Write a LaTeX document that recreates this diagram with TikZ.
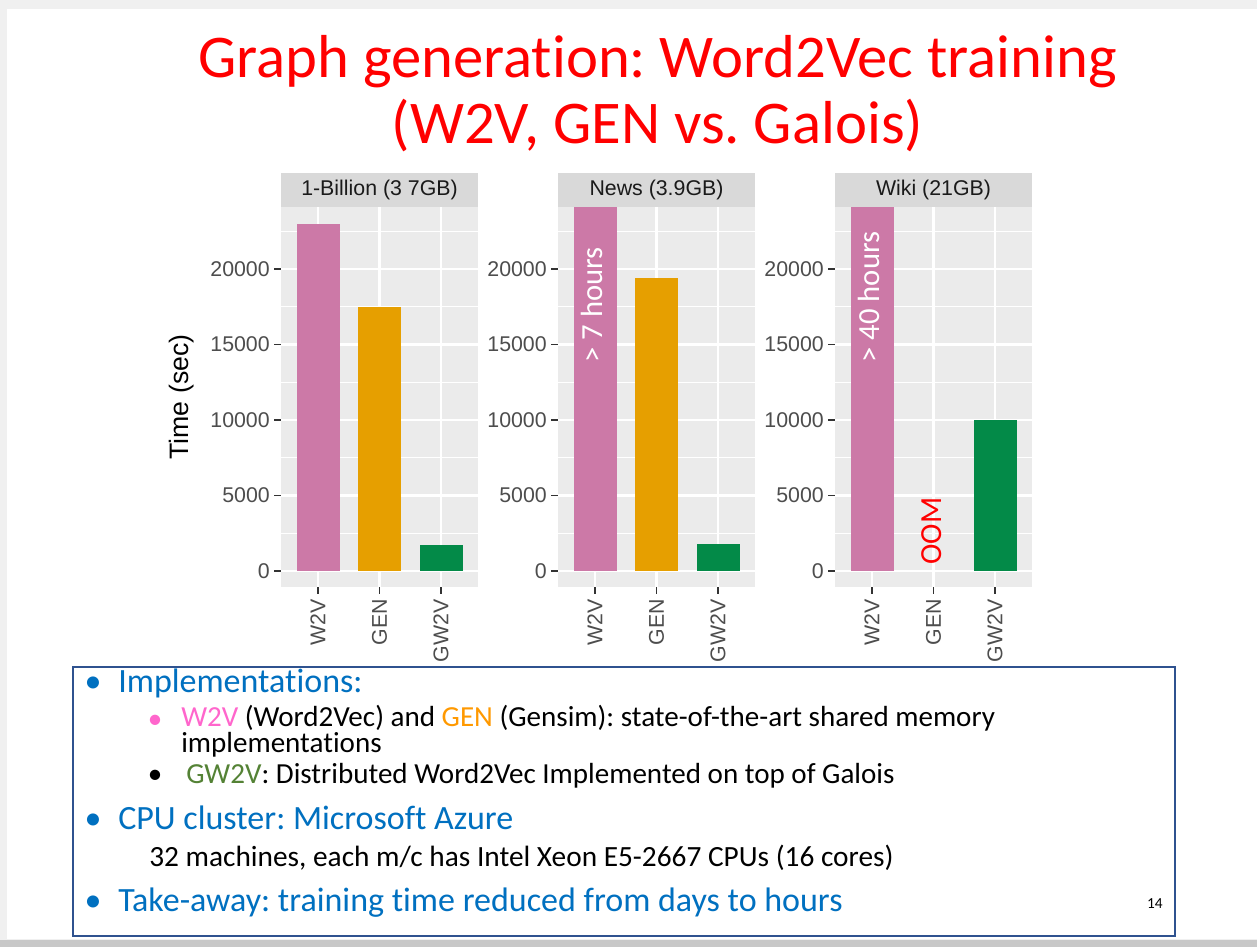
\documentclass[tikz,border=0pt]{standalone}
\usepackage{fontspec}
\setmainfont{Carlito}[Ligatures=NoCommon]
\newfontfamily\ggfont{Liberation Sans}
\frenchspacing
\definecolor{titlered}{RGB}{255,0,0}
\definecolor{panelbg}{RGB}{235,235,235}
\definecolor{stripbg}{RGB}{217,217,217}
\definecolor{w2vpink}{RGB}{204,121,167}
\definecolor{genorange}{RGB}{230,159,0}
\definecolor{gwgreen}{RGB}{3,138,72}
\definecolor{ticktext}{RGB}{77,77,77}
\definecolor{tickline}{RGB}{51,51,51}
\definecolor{striptext}{RGB}{26,26,26}
\definecolor{bulletblue}{RGB}{0,112,192}
\definecolor{boxblue}{RGB}{47,82,143}
\definecolor{txtpink}{RGB}{255,102,204}
\definecolor{txtorange}{RGB}{255,153,0}
\definecolor{txtgreen}{RGB}{84,130,53}
\definecolor{slidegray}{RGB}{240,240,240}
\definecolor{shadowgray}{RGB}{200,200,200}
\tikzset{
  minorgrid/.style={white,line width=0.9pt},
  majorgrid/.style={white,line width=1.7pt},
  tickmark/.style={tickline,line width=1.3pt},
  ylab/.style={anchor=east,text=ticktext,font=\ggfont\fontsize{16}{18}\selectfont,inner sep=0pt},
  xlab/.style={anchor=east,rotate=90,text=ticktext,font=\ggfont\fontsize{16}{18}\selectfont,inner sep=0pt},
  striplab/.style={text=striptext,font=\ggfont\fontsize{16}{18}\selectfont,inner sep=0pt},
  barnote/.style={rotate=90,font=\fontsize{23}{26}\selectfont,inner sep=0pt},
  toptext/.style={anchor=base west,text=bulletblue,font=\fontsize{25.5}{28}\selectfont,inner sep=0pt},
  subtext/.style={anchor=base west,text=black,font=\fontsize{21.8}{24}\selectfont,inner sep=0pt},
  topbullet/.style={anchor=base,text=bulletblue,font=\fontsize{25.5}{28}\selectfont,inner sep=0pt},
  subbullet/.style={anchor=base,font=\fontsize{21.8}{24}\selectfont,inner sep=0pt},
}
\begin{document}
\begin{tikzpicture}[x=0.75pt,y=-0.75pt]
\useasboundingbox (0,0) rectangle (1257,947);
% slide background
\fill[slidegray] (0,0) rectangle (1257,947);
\fill[white] (7,9) rectangle (1257,939);
\fill[shadowgray] (0,940) rectangle (1257,947);
% title
\node[anchor=base,text=titlered,font=\fontsize{45.5}{50}\selectfont,inner sep=0pt] (title1) at (657.5,77) {Graph generation: Word2Vec training};
\node[anchor=base,text=titlered,font=\fontsize{45.5}{50}\selectfont,inner sep=0pt] (title2) at (657.5,143) {(W2V, GEN vs. Galois)};
% panels
\foreach \px/\lab/\pn in {281/{1-Billion (3 7GB)}/p1, 558/{News (3.9GB)}/p2, 835/{Wiki (21GB)}/p3}{
  \fill[panelbg] (\px,207) rectangle ++(197,380);
  \fill[stripbg] (\px,173) rectangle ++(197,34);
  \node[striplab] (strip\pn) at (\px+98.5,190) {\lab};
  \foreach \v in {533.25,457.75,382.25,306.75,231.25}
    \draw[minorgrid] (\px,\v) -- ++(197,0);
  \foreach \v in {571,495.5,420,344.5,269}
    \draw[majorgrid] (\px,\v) -- ++(197,0);
  \foreach \c in {37,98.5,160}
    \draw[majorgrid] (\px+\c,207) -- (\px+\c,587);
  \foreach \v/\t in {571/0,495.5/5000,420/10000,344.5/15000,269/20000}{
    \draw[tickmark] (\px-7,\v) -- (\px,\v);
    \node[ylab] (yl\pn\t) at (\px-11,\v) {\t};
  }
  \foreach \c/\t in {37/W2V,98.5/GEN,160/GW2V}{
    \draw[tickmark] (\px+\c,587) -- (\px+\c,594);
    \node[xlab] (xl\pn\t) at (\px+\c,599) {\t};
  }
}
% bars panel 1
\fill[w2vpink] (296.5,571) rectangle (339.5,223.7);
\fill[genorange] (358,571) rectangle (401,306.75);
\fill[gwgreen] (419.5,571) rectangle (462.5,545.3);
% bars panel 2
\fill[w2vpink] (573.5,571) rectangle (616.5,207);
\fill[genorange] (635,571) rectangle (678,278.1);
\fill[gwgreen] (696.5,571) rectangle (739.5,543.8);
% bars panel 3
\fill[w2vpink] (850.5,571) rectangle (893.5,207);
\fill[gwgreen] (973.5,571) rectangle (1016.5,420);
% annotations
\node[barnote,text=white] (n7h) at (592,305) {> 7 hours};
\node[barnote,text=white] (n40h) at (869,297) {> 40 hours};
\node[barnote,text=red] (noom) at (932,531) {OOM};
% axis title
\node[rotate=90,font=\ggfont\fontsize{20}{24}\selectfont,inner sep=0pt] (ytitle) at (182,397) {Time (sec)};
% text box
\draw[boxblue,line width=0.9pt] (73,667) rectangle (1175,936);
\node[topbullet] (b1) at (93,692) {•};
\node[toptext] (t1) at (118,692) {Implementations:};
\node[subbullet,text=txtpink] (b2) at (155,728) {•};
\node[subtext,align=left,font=\fontsize{21.8}{18.5}\selectfont] (t2) at (181,752.5) {{\color{txtpink}W2V} (Word2Vec) and {\color{txtorange}GEN} (Gensim): state-of-the-art shared memory\\implementations};
\node[subbullet,text=black] (b3) at (155,783) {•};
\node[subtext] (t3) at (186,783) {{\color{txtgreen}GW2V}: Distributed Word2Vec Implemented on top of Galois};
\node[topbullet] (b4) at (93,829) {•};
\node[toptext] (t4) at (118,829) {CPU cluster: Microsoft Azure};
\node[subtext,font=\fontsize{22}{24}\selectfont] (t5) at (149,866) {32 machines, each m/c has Intel Xeon E5-2667 CPUs (16 cores)};
\node[topbullet] (b6) at (93,911) {•};
\node[toptext] (t6) at (118,911) {Take-away: training time reduced from days to hours};
\node[anchor=base east,text=black,font=\fontsize{11.5}{13}\selectfont,inner sep=0pt] (pnum) at (1163,908) {14};
\end{tikzpicture}
\end{document}
